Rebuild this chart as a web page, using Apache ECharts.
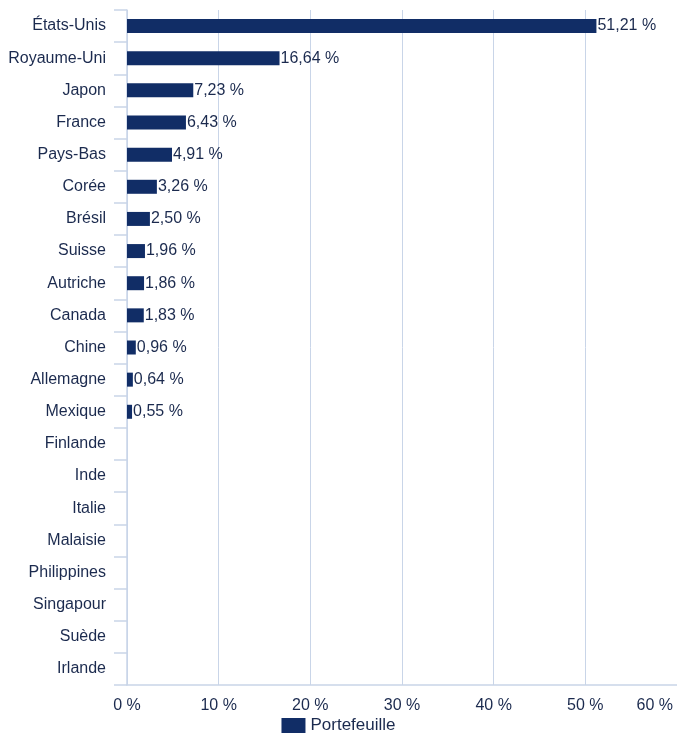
<!DOCTYPE html>
<html><head><meta charset="utf-8">
<script src="https://cdn.jsdelivr.net/npm/echarts@6/dist/echarts.min.js"></script>
<style>html,body{margin:0;padding:0;background:#fff}#c{width:677px;height:733px}</style>
</head><body><div id="c"></div>
<script>
const categories = ["États-Unis","Royaume-Uni","Japon","France","Pays-Bas","Corée","Brésil","Suisse","Autriche","Canada","Chine","Allemagne","Mexique","Finlande","Inde","Italie","Malaisie","Philippines","Singapour","Suède","Irlande"];
const values = [51.21,16.64,7.23,6.43,4.91,3.26,2.50,1.96,1.86,1.83,0.96,0.64,0.55,0,0,0,0,0,0,0,0];
const xTicks = [0,10,20,30,40,50,60];
const seriesName = "Portefeuille";
const textColor = "#1b2a4e";
const lineColor = "#c9d5e8";
const barColor = "#112d66";
const fmt = v => v.toFixed(2).replace('.', ',') + ' %';
const xMax = xTicks[xTicks.length-1];
const chart = echarts.init(document.getElementById('c'));
chart.setOption({
  animation:false,
  textStyle:{fontFamily:'Liberation Sans, Arial, sans-serif'},
  grid:{left:127,width:554,top:10,bottom:48,containLabel:false},
  legend:{bottom:-6,left:'center',icon:'rect',itemWidth:24,itemHeight:15,itemGap:6,
    textStyle:{color:textColor,fontSize:17,fontFamily:'Liberation Sans'},data:[seriesName]},
  xAxis:{type:'value',min:xTicks[0],max:xMax,interval:10,
    axisLine:{show:true,lineStyle:{color:lineColor,width:1.5}},axisTick:{show:false},
    splitLine:{show:true,lineStyle:{color:lineColor,width:1}},
    axisLabel:{color:textColor,fontSize:16,margin:13,alignMaxLabel:'right',
      formatter:v=>v===xMax?'{m|'+v+' %}':v+' %',
      rich:{m:{color:textColor,fontSize:16,padding:[0,4,0,0]}}}},
  yAxis:{type:'category',inverse:true,data:categories,
    axisLine:{show:true,lineStyle:{color:lineColor,width:1.5}},
    axisTick:{show:true,length:13,lineStyle:{color:lineColor,width:1.5}},
    axisLabel:{color:textColor,fontSize:16,margin:21,padding:[4,0,0,0]}},
  series:[{name:seriesName,type:'bar',data:values,barWidth:14,
    itemStyle:{color:barColor},
    label:{show:true,position:'right',distance:1,color:textColor,fontSize:16,padding:[4,0,0,0],
      formatter:p=>p.value>0?fmt(p.value):''}}]
});
</script></body></html>
